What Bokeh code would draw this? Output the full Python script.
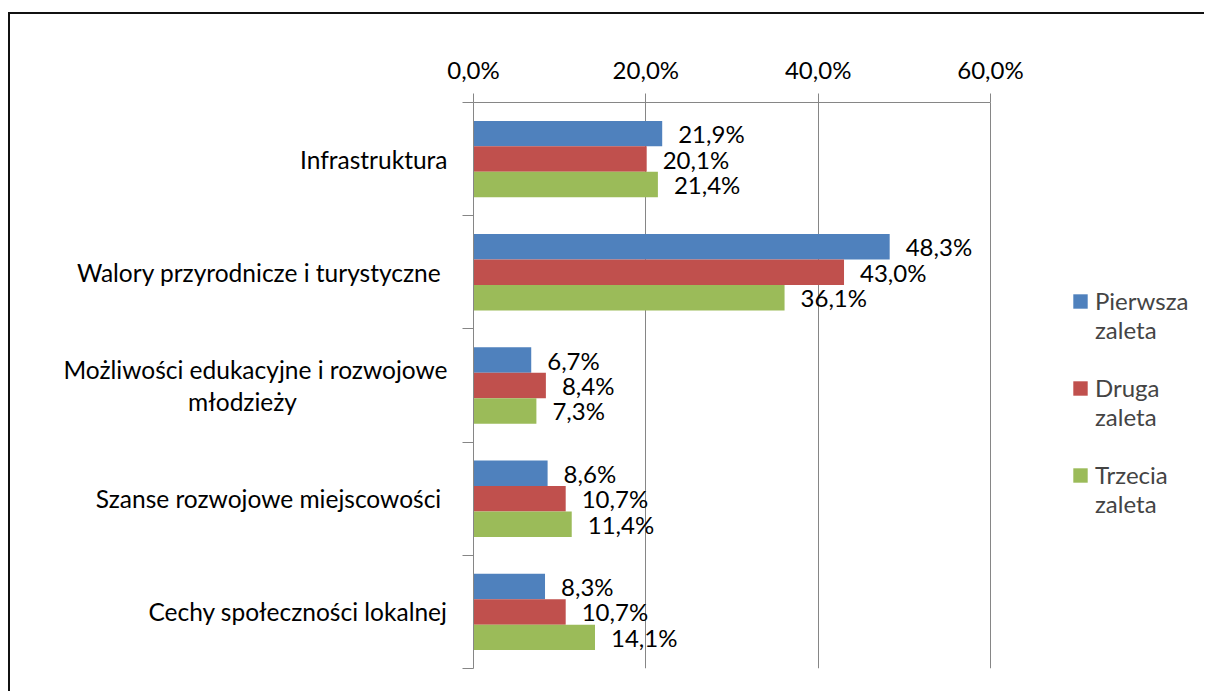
from bokeh.plotting import figure
from bokeh.models import Range1d, FixedTicker, ColumnDataSource, LabelSet, Legend, LegendItem
from bokeh.core.properties import value
from bokeh.embed import file_html
from bokeh.resources import INLINE

categories = [
    "Infrastruktura",
    "Walory przyrodnicze i turystyczne ",
    "Możliwości edukacyjne i rozwojowe\nmłodzieży",
    "Szanse rozwojowe miejscowości ",
    "Cechy społeczności lokalnej",
]
series_names = ["Pierwsza\nzaleta", "Druga\nzaleta", "Trzecia\nzaleta"]
pierwsza = [21.9, 48.3, 6.7, 8.6, 8.3]
druga = [20.1, 43.0, 8.4, 10.7, 10.7]
trzecia = [21.4, 36.1, 7.3, 11.4, 14.1]
x_ticks = [0, 20, 40, 60]
x_tick_labels = ["0,0%", "20,0%", "40,0%", "60,0%"]
colors = ["#4F81BD", "#C0504D", "#9BBB59"]

FONT = "Lato"
FS = "24px"
n = len(categories)
centers = [n - i - 0.5 for i in range(n)]
bar_h = 0.225
offsets = [bar_h, 0.0, -bar_h]

# layout (pixels)
CANVAS_W, CANVAS_H = 1196, 679
LEFT, TOP, BOTTOM = 463, 88, 25
AXIS_PX = 517  # pixel length of the 0..60 axis
frame_w = CANVAS_W - LEFT
x_max = max(x_ticks)
x_end = x_max * frame_w / AXIS_PX


def centered(label):
    lines = label.split("\n")
    if len(lines) == 2:
        lines[1] = lines[1] + " " * 24
    return "\n".join(lines)


p = figure(width=CANVAS_W, height=CANVAS_H, output_backend="svg", toolbar_location=None,
           x_range=Range1d(0, x_end), y_range=Range1d(0, n), x_axis_location="above",
           min_border_left=LEFT, min_border_right=0, min_border_top=TOP,
           min_border_bottom=BOTTOM)
p.margin = (12, 0, 0, 8)
p.styles = {"border-left": "2px solid #111111", "border-top": "2px solid #111111"}
p.outline_line_color = None
p.background_fill_color = "white"
p.border_fill_color = "white"

items = []
for vals, name, col, off in zip([pierwsza, druga, trzecia], series_names, colors, offsets):
    ys = [c + off for c in centers]
    src = ColumnDataSource(dict(
        y=ys, v=vals,
        lab=[("%.1f" % v).replace(".", ",") + "%" for v in vals]))
    r = p.hbar(y="y", right="v", left=0, height=bar_h, source=src,
               fill_color=col, line_color=None)
    items.append(LegendItem(label="\n" + name, renderers=[r]))
    p.add_layout(LabelSet(x="v", y="y", text="lab", source=src, x_offset=16,
                          text_baseline="middle", text_font=value(FONT),
                          text_font_size=FS, text_color="black"))

grid_col = "#868686"
xa = p.xaxis[0]
xa.ticker = FixedTicker(ticks=x_ticks, minor_ticks=[])
xa.bounds = (0, x_max)
xa.major_label_overrides = {t: l for t, l in zip(x_ticks, x_tick_labels)}
xa.axis_line_color = grid_col
xa.major_tick_line_color = grid_col
xa.major_tick_out = 9
xa.major_tick_in = 0
xa.major_label_standoff = 10
xa.major_label_text_font = FONT
xa.major_label_text_font_size = FS
xa.major_label_text_color = "black"

ya = p.yaxis[0]
ya.ticker = FixedTicker(ticks=centers, minor_ticks=list(range(n + 1)))
ya.major_label_overrides = {c: centered(l) for c, l in zip(centers, categories)}
ya.axis_line_color = grid_col
ya.major_tick_line_color = None
ya.major_tick_out = 0
ya.major_tick_in = 0
ya.minor_tick_line_color = grid_col
ya.minor_tick_out = 11
ya.minor_tick_in = 0
ya.major_label_standoff = 15
ya.major_label_text_font = FONT
ya.major_label_text_font_size = "24.5px"
ya.major_label_text_color = "black"
ya.major_label_text_line_height = 1.12

p.xgrid.grid_line_color = grid_col
p.xgrid.ticker = FixedTicker(ticks=x_ticks)
p.ygrid.grid_line_color = None

legend = Legend(items=items, location=(598, 150), orientation="vertical",
                border_line_color=None, background_fill_alpha=0,
                glyph_width=18, glyph_height=18, padding=0, margin=0, spacing=0,
                label_text_font=FONT, label_text_font_size=FS,
                label_text_line_height=1.1, label_standoff=6)
p.add_layout(legend, "center")

open("out.html", "w").write(file_html(p, INLINE))
